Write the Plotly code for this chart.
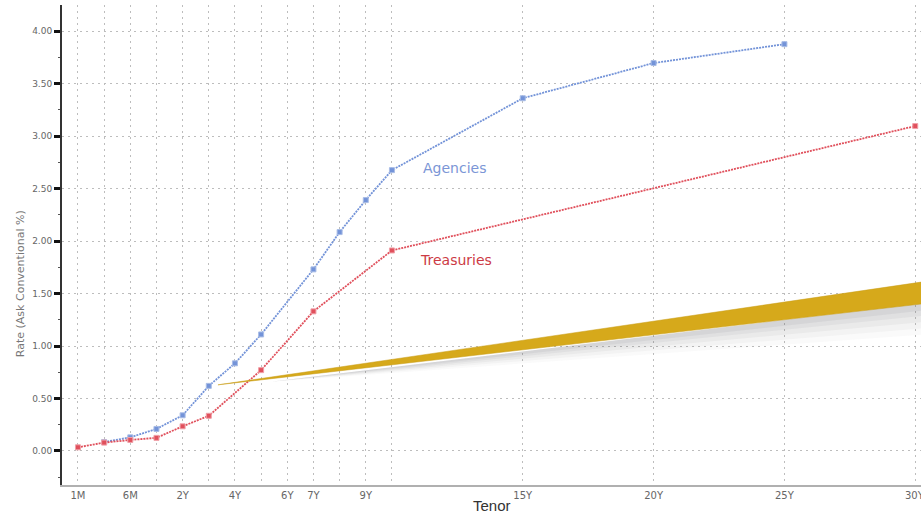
import plotly.graph_objects as go

# ---- data ----
tenor_labels = ["1M", "3M", "6M", "1Y", "2Y", "3Y", "4Y", "5Y", "6Y", "7Y", "8Y", "9Y", "10Y",
                "15Y", "20Y", "25Y", "30Y"]
tenor_pos = [-2, -1, 0, 1, 2, 3, 4, 5, 6, 7, 8, 9, 10, 15, 20, 25, 30]
shown_labels = ["1M", "6M", "2Y", "4Y", "6Y", "7Y", "9Y", "15Y", "20Y", "25Y"]
edge_label = "30Y"

agency_tenors = ["3M", "6M", "1Y", "2Y", "3Y", "4Y", "5Y", "7Y", "8Y", "9Y", "10Y", "15Y", "20Y", "25Y"]
agency_rates = [0.085, 0.13, 0.21, 0.34, 0.62, 0.835, 1.11, 1.73, 2.085, 2.39, 2.675, 3.36, 3.695, 3.875]

treasury_tenors = ["1M", "3M", "6M", "1Y", "2Y", "3Y", "5Y", "7Y", "10Y", "30Y"]
treasury_rates = [0.035, 0.08, 0.105, 0.125, 0.235, 0.335, 0.77, 1.33, 1.91, 3.095]

y_ticks = [0.0, 0.5, 1.0, 1.5, 2.0, 2.5, 3.0, 3.5, 4.0]

pos = dict(zip(tenor_labels, tenor_pos))

BLUE = "#7393d8"
RED = "#e0505c"

fig = go.Figure()
fig.add_trace(go.Scatter(
    x=[pos[t] for t in agency_tenors], y=agency_rates, mode="lines+markers",
    line=dict(color=BLUE, width=1.8, dash="2px,1px"),
    marker=dict(symbol="square", size=5, color=BLUE, line=dict(color="#a9bde6", width=1)),
    showlegend=False, hoverinfo="x+y"))
fig.add_trace(go.Scatter(
    x=[pos[t] for t in treasury_tenors], y=treasury_rates, mode="lines+markers",
    line=dict(color=RED, width=1.8, dash="2px,1px"),
    marker=dict(symbol="square", size=5, color=RED, line=dict(color="#f0a0a8", width=1)),
    showlegend=False, hoverinfo="x+y"))

# decorative gold wedge with soft shadow (data coords)
tip_x, tip_y = 3.35, 0.63
rx = 30.4
shapes = []
for dy, op in [(0.30, 0.03), (0.24, 0.045), (0.18, 0.055), (0.12, 0.065), (0.07, 0.08)]:
    shapes.append(dict(type="path", xref="x", yref="y", layer="above",
                       path=f"M {tip_x+2.0},{tip_y+0.03} L {rx},{1.41} L {rx},{1.41-dy} Z",
                       fillcolor=f"rgba(90,90,100,{op})", line=dict(width=0)))
shapes.append(dict(type="path", xref="x", yref="y", layer="above",
                   path=f"M {tip_x},{tip_y} L {rx},{1.615} L {rx},{1.405} Z",
                   fillcolor="#d6a91b", line=dict(color="#c99c16", width=0.5)))

GRID = dict(showgrid=True, gridcolor="#bdbdbd", griddash="2px,4px", gridwidth=1)
TICKFONT_X = dict(family="DejaVu Sans", size=10, color="#666666")

fig.update_layout(
    width=921, height=513,
    margin=dict(l=62, r=0, t=5, b=28),
    paper_bgcolor="white", plot_bgcolor="white",
    shapes=shapes,
    xaxis=dict(
        range=[-2.61, 30.22],
        tickvals=tenor_pos,
        ticktext=[t if t in shown_labels else "" for t in tenor_labels],
        showline=True, linecolor="#b0b0b0", linewidth=2,
        ticks="", zeroline=False,
        tickfont=TICKFONT_X,
        **GRID,
    ),
    yaxis=dict(
        range=[-0.324, 4.248],
        tickvals=y_ticks, tickformat=".2f",
        showline=True, linecolor="#333333", linewidth=2,
        ticks="outside", ticklen=6, tickwidth=3, tickcolor="#111111",
        minor=dict(tickvals=[-0.25, 0.25, 0.75, 1.25, 1.75, 2.25, 2.75, 3.25, 3.75, 4.25],
                   ticks="outside", ticklen=2, tickwidth=1, tickcolor="#555555", showgrid=False),
        zeroline=False,
        tickfont=dict(family="DejaVu Sans", size=9, color="#666666"),
        **GRID,
    ),
    annotations=[
        dict(text="Rate (Ask Conventional %)", xref="paper", yref="paper", x=-0.048, y=0.42,
             textangle=-90, showarrow=False, xanchor="center", yanchor="middle",
             font=dict(family="DejaVu Sans", size=11, color="#777777")),
        dict(text="Tenor", xref="paper", yref="paper", x=0.5, y=-0.042,
             showarrow=False, xanchor="center", yanchor="middle",
             font=dict(family="Liberation Sans Narrow, Liberation Sans", size=15, color="#333333")),
        dict(text=edge_label, xref="x", yref="paper", x=pos[edge_label], y=-0.021,
             showarrow=False, xanchor="center", yanchor="middle", font=TICKFONT_X),
        dict(text="Agencies", xref="x", yref="y", x=12.4, y=2.70, showarrow=False,
             font=dict(family="DejaVu Sans", size=14, color="#7b96d6")),
        dict(text="Treasuries", xref="x", yref="y", x=12.45, y=1.82, showarrow=False,
             font=dict(family="DejaVu Sans", size=14, color="#cc3a44")),
    ],
)

fig.write_html("out.html", post_script="document.body.style.margin='0';",
               config={"displayModeBar": False})
